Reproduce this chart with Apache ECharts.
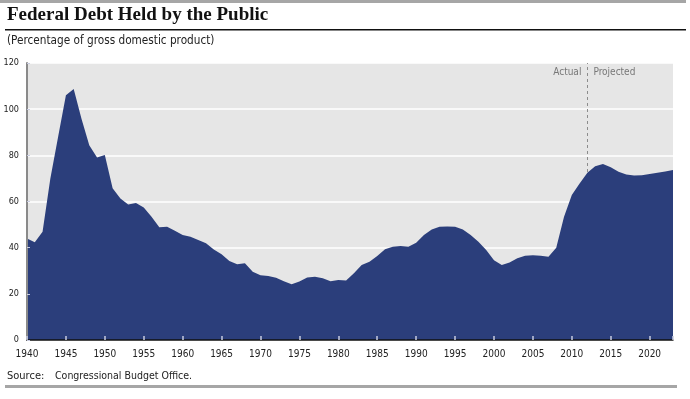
<!DOCTYPE html>
<html>
<head>
<meta charset="utf-8">
<script src="https://cdn.jsdelivr.net/npm/echarts@6/dist/echarts.min.js"></script>
<style>
  html, body { margin: 0; padding: 0; background: #fff; }
  #chart { width: 690px; height: 399px; }
</style>
</head>
<body>
<div id="chart"></div>
<script>
// debt held by the public, % of GDP
const years = [1940, 1941, 1942, 1943, 1944, 1945, 1946, 1947, 1948, 1949,
  1950, 1951, 1952, 1953, 1954, 1955, 1956, 1957, 1958, 1959,
  1960, 1961, 1962, 1963, 1964, 1965, 1966, 1967, 1968, 1969,
  1970, 1971, 1972, 1973, 1974, 1975, 1976, 1977, 1978, 1979,
  1980, 1981, 1982, 1983, 1984, 1985, 1986, 1987, 1988, 1989,
  1990, 1991, 1992, 1993, 1994, 1995, 1996, 1997, 1998, 1999,
  2000, 2001, 2002, 2003, 2004, 2005, 2006, 2007, 2008, 2009,
  2010, 2011, 2012, 2013, 2014, 2015, 2016, 2017, 2018, 2019,
  2020, 2021, 2022, 2023]
const debt = [44.0, 42.4, 46.9, 70.0, 88.0, 106.0, 108.7, 95.8, 84.4, 79.1,
  80.1, 65.7, 61.3, 58.7, 59.4, 57.4, 53.4, 48.8, 49.1, 47.3,
  45.5, 44.7, 43.3, 41.9, 39.2, 37.1, 34.2, 32.8, 33.2, 29.6,
  28.1, 27.7, 27.0, 25.5, 24.1, 25.3, 27.1, 27.4, 26.8, 25.5,
  26.0, 25.8, 28.9, 32.5, 33.9, 36.4, 39.3, 40.4, 40.7, 40.4,
  42.1, 45.5, 47.9, 49.1, 49.2, 49.1, 47.9, 45.5, 42.6, 39.0,
  34.6, 32.5, 33.6, 35.4, 36.5, 36.7, 36.5, 36.1, 40.0, 53.4,
  62.8, 67.8, 72.5, 75.3, 76.2, 74.8, 72.9, 71.7, 71.3, 71.4,
  71.9, 72.5, 73.0, 73.7]
const splitYear = 2012
const yTicks = [0, 20, 40, 60, 80, 100, 120]

const chart = echarts.init(document.getElementById('chart'))
const narrow = "'Liberation Sans Narrow', 'DejaVu Sans Condensed', sans-serif"

const option = {
  animation: false,
  backgroundColor: '#fff',
  grid: { left: 27, right: 17, top: 63, bottom: 59, show: true, backgroundColor: '#e6e6e6', borderWidth: 0 },
  xAxis: [{
    type: 'value', min: years[0], max: years[years.length - 1], interval: 5,
    axisLine: { show: false },
    axisTick: { show: false },
    splitLine: { show: false },
    axisLabel: { color: '#222', fontSize: 10, fontFamily: narrow, margin: 9, showMaxLabel: false,
      formatter: v => String(v) }
  }, {
    type: 'value', min: years[0], max: years[years.length - 1], interval: 5,
    position: 'bottom', z: 10,
    axisLine: { show: true, onZero: false, lineStyle: { color: '#111', width: 1.5 } },
    axisTick: { show: true, inside: true, length: 4, lineStyle: { color: '#c8cce0', width: 1.5 } },
    axisLabel: { show: false },
    splitLine: { show: false }
  }],
  yAxis: [{
    type: 'value', min: yTicks[0], max: yTicks[yTicks.length - 1], interval: 20,
    axisLine: { show: false },
    axisTick: { show: false },
    splitLine: { show: true, lineStyle: { color: '#fff', width: 1.5 } },
    axisLabel: { color: '#222', fontSize: 9, fontFamily: narrow, margin: 8 }
  }, {
    type: 'value', min: yTicks[0], max: yTicks[yTicks.length - 1], interval: 20,
    position: 'left', z: 10,
    axisLine: { show: true, lineStyle: { color: '#8a8a8a', width: 2 } },
    axisTick: { show: true, inside: true, length: 3, lineStyle: { color: '#c8cce0', width: 1 } },
    axisLabel: { show: false },
    splitLine: { show: false }
  }],
  series: [{
    type: 'line',
    xAxisIndex: 0, yAxisIndex: 0,
    data: years.map((y, i) => [y, debt[i]]),
    showSymbol: false,
    lineStyle: { width: 0 },
    areaStyle: { color: '#2b3e7b', opacity: 1 },
    markLine: {
      silent: true, symbol: 'none',
      lineStyle: { type: [3, 3], color: '#8c8c8c', width: 1 },
      label: { show: false },
      data: [{ xAxis: splitYear }]
    },
    z: 5
  }],
  graphic: [
    { type: 'rect', shape: { x: 0, y: 0, width: 686, height: 3 }, style: { fill: '#a6a6a6' } },
    { type: 'text', left: 7, top: 6, style: { text: 'Federal Debt Held by the Public', font: "bold 19px 'Liberation Serif', serif", fill: '#111' } },
    { type: 'rect', shape: { x: 5, y: 29, width: 681, height: 1.5 }, style: { fill: '#111' } },
    { type: 'text', left: 7, top: 35, style: { text: '(Percentage of gross domestic product)', font: "11.7px " + narrow, fill: '#222' } },
    { type: 'text', left: 7, top: 371, style: { text: 'Source:', font: "11px " + narrow, fill: '#222' } },
    { type: 'text', left: 55, top: 371, style: { text: 'Congressional Budget Office.', font: "10.5px " + narrow, fill: '#222' } },
    { type: 'rect', shape: { x: 5, y: 385, width: 672, height: 3 }, style: { fill: '#a6a6a6' } }
  ]
}
chart.setOption(option)

// Actual / Projected labels either side of the split line
const sx = chart.convertToPixel({ xAxisIndex: 0 }, splitYear)
chart.setOption({
  graphic: option.graphic.concat([
    { type: 'text', x: sx - 6, y: 67, style: { text: 'Actual', font: "10px " + narrow, fill: '#777', align: 'right' } },
    { type: 'text', x: sx + 6, y: 67, style: { text: 'Projected', font: "10px " + narrow, fill: '#777', align: 'left' } }
  ])
})
</script>
</body>
</html>
